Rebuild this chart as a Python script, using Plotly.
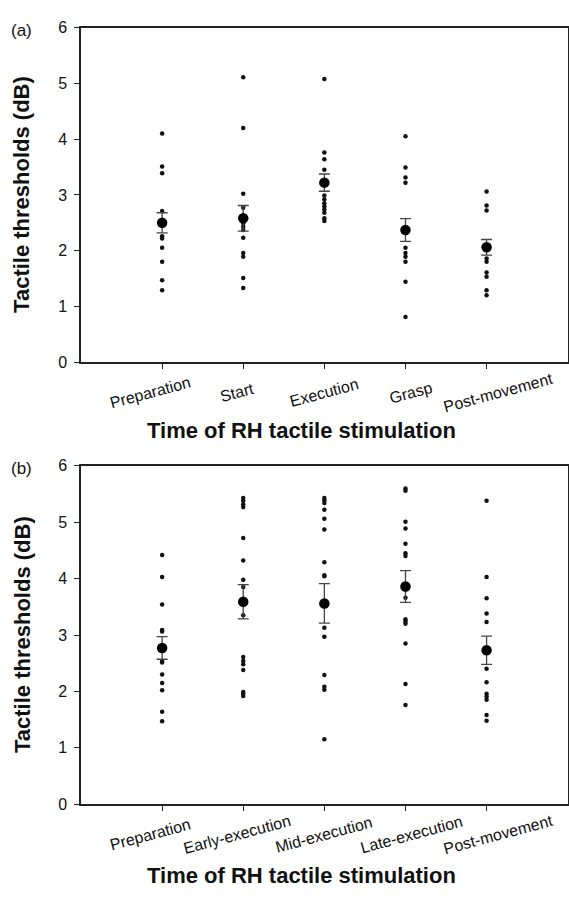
import plotly.graph_objects as go

# ---------------- data ----------------
cats_a = ["Preparation", "Start", "Execution", "Grasp", "Post-movement"]
cats_b = ["Preparation", "Early-execution", "Mid-execution", "Late-execution", "Post-movement"]

a_preparation = [4.10, 3.51, 3.39, 2.71, 2.26, 2.22, 2.05, 1.80, 1.47, 1.29]
a_start = [5.11, 4.20, 3.02, 2.77, 2.49, 2.43, 2.37, 2.23, 1.96, 1.89, 1.51, 1.33]
a_execution = [5.08, 3.76, 3.64, 3.45, 2.99, 2.92, 2.85, 2.79, 2.74, 2.68, 2.58, 2.53]
a_grasp = [4.05, 3.49, 3.31, 3.22, 2.05, 1.96, 1.89, 1.80, 1.44, 0.81]
a_post = [3.06, 2.81, 2.72, 1.86, 1.80, 1.61, 1.53, 1.29, 1.20]
a_mean = [2.50, 2.58, 3.22, 2.37, 2.06]
a_se = [0.18, 0.23, 0.155, 0.205, 0.14]

b_preparation = [4.42, 4.03, 3.54, 3.09, 3.06, 2.54, 2.51, 2.30, 2.15, 2.02, 1.64, 1.47]
b_early = [5.43, 5.38, 5.32, 5.27, 4.72, 4.32, 3.98, 3.85, 3.35, 2.61, 2.54, 2.48, 2.38, 1.99, 1.96, 1.92]
b_mid = [5.43, 5.39, 5.34, 5.22, 5.06, 4.87, 4.29, 4.06, 4.04, 3.13, 2.97, 2.29, 2.08, 2.03, 1.15]
b_late = [5.60, 5.56, 5.01, 4.89, 4.62, 4.45, 4.40, 3.66, 3.28, 3.24, 3.20, 2.85, 2.13, 1.76]
b_post = [5.38, 4.03, 3.65, 3.38, 3.23, 2.40, 2.16, 1.96, 1.91, 1.85, 1.58, 1.48]
b_mean = [2.77, 3.59, 3.56, 3.86, 2.73]
b_se = [0.20, 0.305, 0.35, 0.28, 0.25]

y_ticks = [0, 1, 2, 3, 4, 5, 6]
y_title = "Tactile thresholds (dB)"
x_title = "Time of RH tactile stimulation"

# ---------------- layout helpers ----------------
W, H = 569, 898
FONT = "Liberation Sans, Arial, Helvetica, sans-serif"


def fx(p):
    return p / W


def fy(p):
    return 1 - p / H


X_DOM = [fx(81), fx(567.7)]
A_TOP, A_BOT = 20, 361
B_TOP, B_BOT = 466.7, 811.5

fig = go.Figure()


def add_panel(groups, means, ses, xa, ya):
    xs, ys = [], []
    for i, vals in enumerate(groups):
        xs += [i + 1] * len(vals)
        ys += vals
    fig.add_trace(go.Scatter(
        x=xs, y=ys, mode="markers", xaxis=xa, yaxis=ya,
        marker=dict(size=4.5, color="#111"), showlegend=False, hoverinfo="y"))
    fig.add_trace(go.Scatter(
        x=list(range(1, len(means) + 1)), y=means, mode="markers", xaxis=xa, yaxis=ya,
        marker=dict(size=10.5, color="#000"),
        error_y=dict(type="data", array=ses, visible=True, color="#444",
                     thickness=1.3, width=5.5),
        showlegend=False, hoverinfo="y"))


add_panel([a_preparation, a_start, a_execution, a_grasp, a_post], a_mean, a_se, "x", "y")
add_panel([b_preparation, b_early, b_mid, b_late, b_post], b_mean, b_se, "x2", "y2")

axis_common = dict(range=[0, 6], showgrid=False, zeroline=False, showline=True,
                   linecolor="#222", linewidth=1.5, mirror=True, ticks="outside",
                   ticklen=5, tickwidth=1.2, tickcolor="#222", fixedrange=True)

xcfg = dict(axis_common, tickvals=[1, 2, 3, 4, 5], showticklabels=False, domain=X_DOM)
ycfg = dict(axis_common, tickvals=y_ticks, tickfont=dict(family=FONT, size=16, color="#111"),
            ticklabelstandoff=4)

fig.update_layout(
    width=W, height=H,
    margin=dict(l=0, r=0, t=0, b=0, pad=0),
    paper_bgcolor="white", plot_bgcolor="white",
    xaxis=dict(xcfg, anchor="y"),
    yaxis=dict(ycfg, anchor="x", domain=[fy(A_BOT), fy(A_TOP)]),
    xaxis2=dict(xcfg, anchor="y2"),
    yaxis2=dict(ycfg, anchor="x2", domain=[fy(B_BOT), fy(B_TOP)]),
    font=dict(family=FONT, color="#111"),
)

ann = []
label_shift = [-12, -6, 0, 6, 12]
for cats, xr, bot in [(cats_a, "x", A_BOT), (cats_b, "x2", B_BOT)]:
    for i, c in enumerate(cats):
        ann.append(dict(text=c, x=i + 1, xref=xr, y=fy(bot + 31), yref="paper",
                        xanchor="center", yanchor="middle", textangle=-15,
                        xshift=label_shift[i], showarrow=False,
                        font=dict(family=FONT, size=16, color="#111")))

for top, bot, letter, tcy in [(A_TOP, A_BOT, "(a)", 431), (B_TOP, B_BOT, "(b)", 884)]:
    ann.append(dict(text="<b>%s</b>" % y_title, x=fx(22), y=fy((top + bot) / 2),
                    xref="paper", yref="paper", textangle=-90, showarrow=False,
                    xanchor="center", yanchor="middle",
                    font=dict(family=FONT, size=22, color="#111")))
    ann.append(dict(text="<b>%s</b>" % x_title, x=fx(302), y=fy(tcy),
                    xref="paper", yref="paper", showarrow=False,
                    xanchor="center", yanchor="middle",
                    font=dict(family=FONT, size=22, color="#111")))
    ann.append(dict(text=letter, x=fx(21), y=fy(top + 3), xref="paper", yref="paper",
                    showarrow=False, xanchor="center", yanchor="middle",
                    font=dict(family=FONT, size=17, color="#111")))

fig.update_layout(annotations=ann)

fig.write_html(
    "out.html",
    config={"displayModeBar": False},
    post_script="document.body.style.margin='0';document.body.style.overflow='hidden';",
)
